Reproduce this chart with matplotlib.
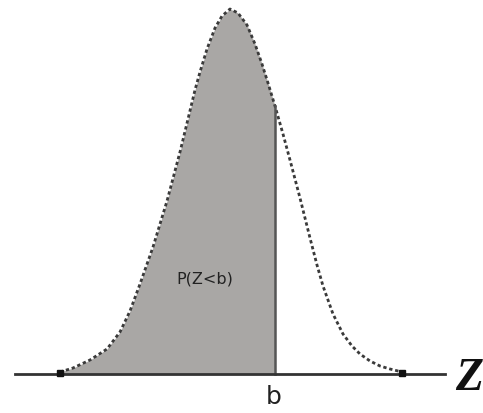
import numpy as np
import matplotlib
matplotlib.use("Agg")
import matplotlib.pyplot as plt

# curve (x position, height above baseline)
z_vals = [60, 73, 90, 107, 120, 130, 140, 153, 167, 180, 188, 195, 200, 207, 215,
          222, 230, 238, 247, 255, 262, 268, 275, 283, 290, 300, 310, 317, 323,
          333, 343, 352, 360, 370, 380, 390, 402]
dens = [2, 6, 14, 25, 42, 63, 90, 127, 173, 222, 255, 284, 302, 325, 346,
        358, 365, 361, 349, 330, 310, 291, 268, 240, 214, 176, 136, 109, 88,
        60, 40, 28, 20, 13, 8, 5, 2]
b_pos = 275
label_prob = "P(Z<b)"
label_b = "b"
label_axis = "Z"

z = np.array(z_vals, dtype=float)
d = np.array(dens, dtype=float)

fig = plt.figure(figsize=(4.83, 4.14), dpi=100)
ax = fig.add_axes([0, 0, 1, 1])
ax.set_xlim(0, 483)
ax.set_ylim(-39, 375)
ax.axis("off")

left = z <= b_pos
ax.fill_between(z[left], 0, d[left], color="#a9a7a5", lw=0)
ax.plot(z, d, color="#3a3a3a", lw=2, linestyle=(0, (1.2, 1.0)))
ax.plot([b_pos, b_pos], [0, np.interp(b_pos, z, d)], color="#555555", lw=1.8)
ax.plot([15, 445], [0, 0], color="#333333", lw=2)
ax.plot([z[0], z[-1]], [1, 1], ls="none", marker="s", ms=4, color="#111111")

ax.text(205, 96, label_prob, fontsize=11.5, ha="center", va="center",
        family="DejaVu Sans", color="#222222")
ax.text(b_pos - 1, -22, label_b, fontsize=18, ha="center", va="center",
        family="DejaVu Sans", color="#222222")
ax.text(469, -4, label_axis, fontsize=33, ha="center", va="center",
        family="Liberation Serif", style="italic", weight="bold", color="#111111")

fig.savefig("out.png", dpi=100)
